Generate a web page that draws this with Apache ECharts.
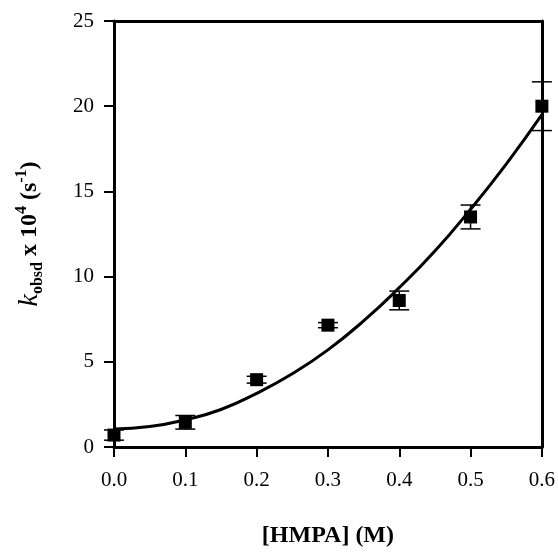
<!DOCTYPE html>
<html>
<head>
<meta charset="utf-8">
<script src="https://cdn.jsdelivr.net/npm/echarts@6/dist/echarts.min.js"></script>
<style>html,body{margin:0;padding:0;background:#fff}#c{width:558px;height:553px}</style>
</head>
<body>
<div id="c"></div>
<script>
// Data
var hmpa = [0.0, 0.1, 0.2, 0.3, 0.4, 0.5, 0.6];
var kobsd = [0.7, 1.45, 3.95, 7.15, 8.6, 13.5, 20.0];
var kErr = [0.3, 0.4, 0.2, 0.15, 0.55, 0.7, 1.43];
var fitX = [0.0, 0.05, 0.1, 0.15, 0.2, 0.25, 0.3, 0.35, 0.4, 0.45, 0.5, 0.55, 0.6];
var fitY = [1.05, 1.2, 1.6, 2.2, 3.15, 4.3, 5.7, 7.4, 9.35, 11.5, 13.95, 16.6, 19.5];
var xTicks = ['0.0', '0.1', '0.2', '0.3', '0.4', '0.5', '0.6'];
var yTicks = ['0', '5', '10', '15', '20', '25'];

var FONT = 'Liberation Serif';
var chart = echarts.init(document.getElementById('c'));

var points = hmpa.map(function (x, i) { return [x, kobsd[i]]; });
var errData = hmpa.map(function (x, i) { return [x, kobsd[i] - kErr[i], kobsd[i] + kErr[i]]; });
var fitData = fitX.map(function (x, i) { return [x, fitY[i]]; });

var option = {
  animation: false,
  backgroundColor: '#fff',
  grid: { left: 114, right: 15, top: 21, bottom: 102, containLabel: false },
  xAxis: [{
    type: 'value', min: 0, max: 0.6, interval: 0.1,
    axisLine: { show: true, onZero: false, lineStyle: { color: '#000', width: 3 } },
    axisTick: { show: true, inside: false, length: 10, lineStyle: { color: '#000', width: 2 } },
    axisLabel: { margin: 23, color: '#000', fontFamily: FONT, fontSize: 21,
      formatter: function (v) { return xTicks[Math.round(v * 10)]; } },
    splitLine: { show: false },
    name: '[HMPA] (M)', nameLocation: 'middle', nameGap: 77,
    nameTextStyle: { color: '#000', fontFamily: FONT, fontSize: 24, fontWeight: 'bold' }
  }, {
    type: 'value', min: 0, max: 0.6, position: 'top',
    axisLine: { show: true, onZero: false, lineStyle: { color: '#000', width: 3 } },
    axisTick: { show: false }, axisLabel: { show: false }, splitLine: { show: false }
  }],
  yAxis: [{
    type: 'value', min: 0, max: 25, interval: 5,
    axisLine: { show: true, onZero: false, lineStyle: { color: '#000', width: 3 } },
    axisTick: { show: true, inside: false, length: 10, lineStyle: { color: '#000', width: 2 } },
    axisLabel: { margin: 20, color: '#000', fontFamily: FONT, fontSize: 21,
      formatter: function (v) { return yTicks[Math.round(v / 5)]; } },
    splitLine: { show: false },
    name: '{k|k}{sub|obsd}{n| x 10}{sup|4}{n| (s}{sup|-1}{n|)}',
    nameLocation: 'middle', nameGap: 68, nameRotate: 90,
    nameTextStyle: {
      color: '#000', fontFamily: FONT, fontSize: 24, fontWeight: 'bold',
      rich: {
        k: { fontFamily: FONT, fontSize: 28, fontStyle: 'italic', fontWeight: 'normal', color: '#000', lineHeight: 32, verticalAlign: 'middle' },
        n: { fontFamily: FONT, fontSize: 24, fontWeight: 'bold', color: '#000', lineHeight: 32, verticalAlign: 'middle' },
        sub: { fontFamily: FONT, fontSize: 16, fontWeight: 'bold', color: '#000', lineHeight: 16, verticalAlign: 'bottom' },
        sup: { fontFamily: FONT, fontSize: 16, fontWeight: 'bold', color: '#000', lineHeight: 16, verticalAlign: 'top' }
      }
    }
  }, {
    type: 'value', min: 0, max: 25, position: 'right',
    axisLine: { show: true, onZero: false, lineStyle: { color: '#000', width: 3 } },
    axisTick: { show: false }, axisLabel: { show: false }, splitLine: { show: false }
  }],
  series: [{
    type: 'line', data: fitData, smooth: true, showSymbol: false, symbol: 'none',
    lineStyle: { color: '#000', width: 3 }, z: 3
  }, {
    type: 'custom', data: errData, clip: false, z: 4,
    renderItem: function (params, api) {
      var x = api.value(0);
      var lo = api.coord([x, api.value(1)]);
      var hi = api.coord([x, api.value(2)]);
      var hw = 10;
      var st = { stroke: '#000', lineWidth: 1.5 };
      return {
        type: 'group',
        children: [
          { type: 'line', shape: { x1: lo[0], y1: lo[1], x2: hi[0], y2: hi[1] }, style: st },
          { type: 'line', shape: { x1: lo[0] - hw, y1: lo[1], x2: lo[0] + hw, y2: lo[1] }, style: st },
          { type: 'line', shape: { x1: hi[0] - hw, y1: hi[1], x2: hi[0] + hw, y2: hi[1] }, style: st }
        ]
      };
    }
  }, {
    type: 'scatter', data: points, symbol: 'rect', symbolSize: 13, clip: false, z: 5,
    itemStyle: { color: '#000', opacity: 1 }
  }]
};
chart.setOption(option);
</script>
</body>
</html>
